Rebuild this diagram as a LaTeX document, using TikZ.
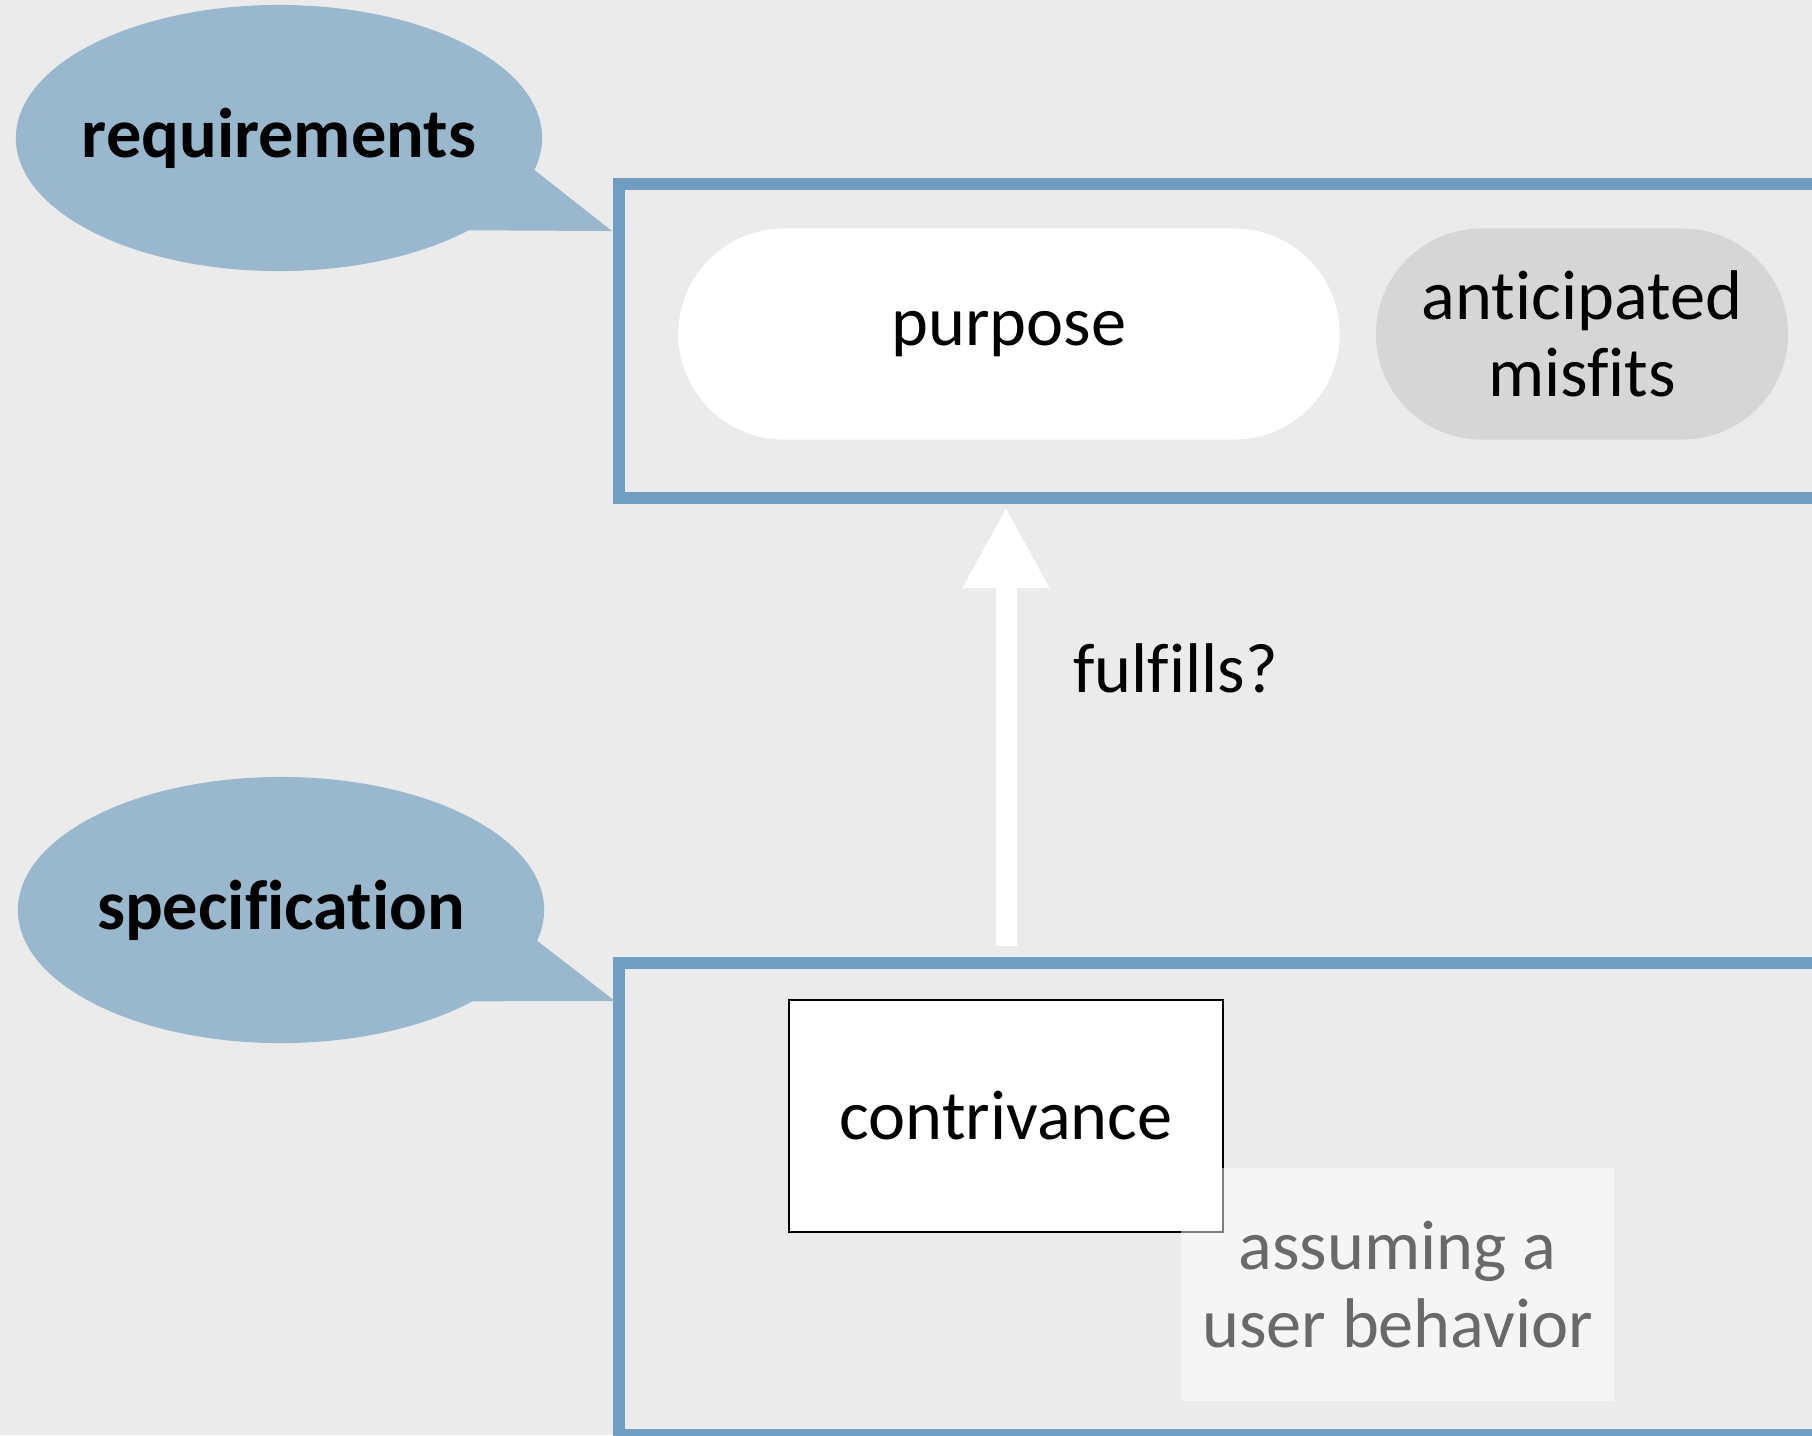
\documentclass[tikz,border=0pt]{standalone}
\usepackage{fontspec}
\setmainfont{Carlito}[Ligatures=NoCommon]
\usepackage{tikz}
\usetikzlibrary{arrows.meta,shapes.misc,shapes.callouts}
\definecolor{pagegray}{RGB}{235,235,235}
\definecolor{frameblue}{RGB}{112,157,192}
\definecolor{bubbleblue}{RGB}{153,184,206}
\definecolor{misfitgray}{RGB}{214,214,214}
\definecolor{notegray}{RGB}{105,105,105}

\begin{document}
\begin{tikzpicture}[x=0.01cm,y=-0.01cm,font=\fontsize{20}{22}\selectfont,
    frame/.style={draw=frameblue,line width=0.12cm,minimum width=14.81cm},
    pill/.style={rounded rectangle,inner sep=0pt,minimum height=2.11cm,align=center},
    bubble/.style={ellipse callout,fill=bubbleblue,inner sep=0pt,minimum width=5.26cm,minimum height=2.66cm,callout pointer arc=30,font=\fontsize{20}{22}\selectfont\bfseries},
    fulfarrow/.style={draw=white,line width=0.21cm,-{Triangle[length=0.81cm,width=0.81cm]}}]
  \useasboundingbox (0,0) rectangle (1812,1435);
  \fill[pagegray] (0,0) rectangle (1812,1435);
  \clip (0,0) rectangle (1812,1435);
  \node[frame,minimum height=3.14cm] (reqbox) at (1359.5,341) {};
  \node[frame,minimum height=4.72cm] (specbox) at (1359.5,1199) {};
  \node[pill,fill=white,minimum width=6.61cm] (purpose) at (1009,334) {purpose};
  \node[pill,fill=misfitgray,minimum width=4.12cm] (misfits) at (1582,334) {anticipated\\misfits};
  \node[draw,fill=white,line width=0.65pt,minimum width=4.34cm,minimum height=2.32cm] (contrivance) at (1006,1116) {contrivance};
  \node[fill=white,fill opacity=0.5,text opacity=1,text=notegray,align=center,minimum width=4.33cm,minimum height=2.33cm] (behavior) at (1397.5,1284.5) {assuming a\\user behavior};
  \draw[fulfarrow,shorten <=0.11cm,shorten >=0.03cm] (specbox.north -| contrivance) -- node[pos=0.585,anchor=base west,xshift=0.45cm] (fulfills) {fulfills?} (reqbox.south -| contrivance);
  \coordinate (reqtip) at (612,231);
  \coordinate (spectip) at (615,1001);
  \node[bubble,callout absolute pointer=(reqtip)] (requirements) at (279,138) {\makebox[0pt]{requirements}};
  \node[bubble,callout absolute pointer=(spectip)] (specification) at (281,910) {\makebox[0pt]{specification}};
\end{tikzpicture}
\end{document}
